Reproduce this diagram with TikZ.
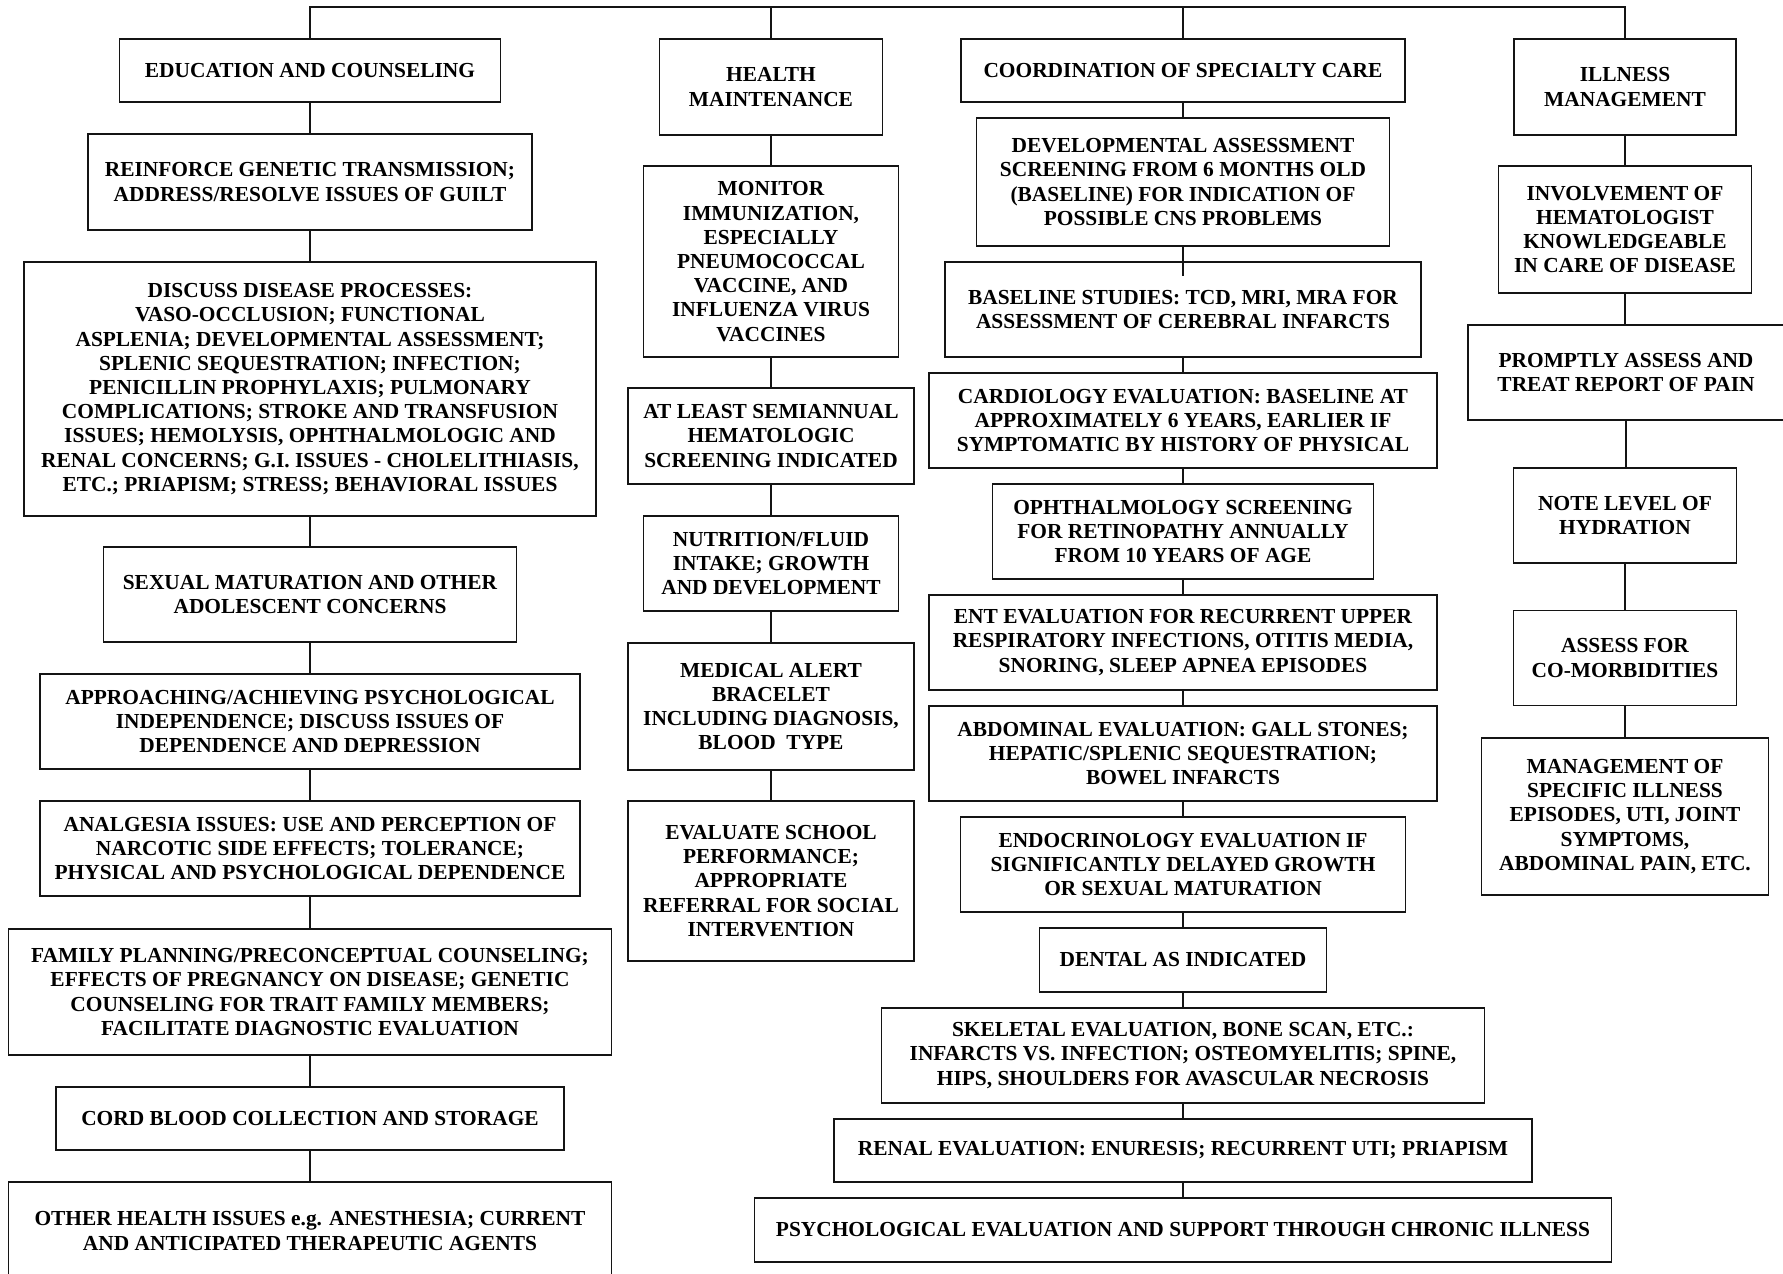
\documentclass[tikz,border=0pt]{standalone}
\usepackage{fontspec}
\setmainfont{Liberation Serif}
\usepackage{tikz}
\usetikzlibrary{positioning}
\definecolor{boxline}{RGB}{20,20,20}

\tikzset{
  box/.style={draw=boxline, line width=1.3pt, fill=white, align=center, inner sep=0pt,
    font=\bfseries\fontsize{21.4}{24.2}\selectfont},
  link/.style={draw=boxline, line width=1.2pt}
}

\begin{document}
\begin{tikzpicture}[x=1pt, y=-1pt]
  \useasboundingbox (0,0) rectangle (1783,1274);
  \coordinate (top) at (0,7);

  \node[box, minimum width=381, minimum height=63] (edu) at (310,70.5) {EDUCATION AND COUNSELING};
  \node[box, minimum width=444, minimum height=96] (reinf) at (310,182) {REINFORCE GENETIC TRANSMISSION;\\ADDRESS/RESOLVE ISSUES OF GUILT};
  \node[box, minimum width=572, minimum height=254] (disc) at (310,389) {DISCUSS DISEASE PROCESSES:\\VASO-OCCLUSION; FUNCTIONAL\\ASPLENIA; DEVELOPMENTAL ASSESSMENT;\\SPLENIC SEQUESTRATION; INFECTION;\\PENICILLIN PROPHYLAXIS; PULMONARY\\COMPLICATIONS; STROKE AND TRANSFUSION\\ISSUES; HEMOLYSIS, OPHTHALMOLOGIC AND\\RENAL CONCERNS; G.I. ISSUES - CHOLELITHIASIS,\\ETC.; PRIAPISM; STRESS; BEHAVIORAL ISSUES};
  \node[box, minimum width=413, minimum height=95] (sexmat) at (310,594.5) {SEXUAL MATURATION AND OTHER\\ADOLESCENT CONCERNS};
  \node[box, minimum width=540, minimum height=95] (indep) at (310,721.5) {APPROACHING/ACHIEVING PSYCHOLOGICAL\\INDEPENDENCE; DISCUSS ISSUES OF\\DEPENDENCE AND DEPRESSION};
  \node[box, minimum width=540, minimum height=95] (analg) at (310,848.5) {ANALGESIA ISSUES: USE AND PERCEPTION OF\\NARCOTIC SIDE EFFECTS; TOLERANCE;\\PHYSICAL AND PSYCHOLOGICAL DEPENDENCE};
  \node[box, minimum width=603, minimum height=126] (family) at (310,992) {FAMILY PLANNING/PRECONCEPTUAL COUNSELING;\\EFFECTS OF PREGNANCY ON DISEASE; GENETIC\\COUNSELING FOR TRAIT FAMILY MEMBERS;\\FACILITATE DIAGNOSTIC EVALUATION};
  \node[box, minimum width=508, minimum height=63] (cord) at (310,1118.5) {CORD BLOOD COLLECTION AND STORAGE};
  \node[box, minimum width=603, minimum height=98] (other) at (310,1231) {OTHER HEALTH ISSUES e.g. ANESTHESIA; CURRENT\\AND ANTICIPATED THERAPEUTIC AGENTS};

  \node[box, minimum width=223, minimum height=96] (health) at (771,87) {HEALTH\\MAINTENANCE};
  \node[box, minimum width=255, minimum height=191] (immun) at (771,261.5) {MONITOR\\IMMUNIZATION,\\ESPECIALLY\\PNEUMOCOCCAL\\VACCINE, AND\\INFLUENZA VIRUS\\VACCINES};
  \node[box, minimum width=286, minimum height=96] (semi) at (771,436) {AT LEAST SEMIANNUAL\\HEMATOLOGIC\\SCREENING INDICATED};
  \node[box, minimum width=255, minimum height=95] (nutr) at (771,563.5) {NUTRITION/FLUID\\INTAKE; GROWTH\\AND DEVELOPMENT};
  \node[box, minimum width=286, minimum height=127] (alert) at (771,706.5) {MEDICAL ALERT\\BRACELET\\INCLUDING DIAGNOSIS,\\BLOOD\ \ TYPE};
  \node[box, minimum width=286, minimum height=160] (school) at (771,881) {EVALUATE SCHOOL\\PERFORMANCE;\\APPROPRIATE\\REFERRAL FOR SOCIAL\\INTERVENTION};

  \node[box, minimum width=444, minimum height=63] (coord) at (1183,70.5) {COORDINATION OF SPECIALTY CARE};
  \node[box, minimum width=413, minimum height=128] (devel) at (1183,182) {DEVELOPMENTAL ASSESSMENT\\SCREENING FROM 6 MONTHS OLD\\(BASELINE) FOR INDICATION OF\\POSSIBLE CNS PROBLEMS};
  \node[box, minimum width=476, minimum height=95] (baseline) at (1183,309.5) {BASELINE STUDIES: TCD, MRI, MRA FOR\\ASSESSMENT OF CEREBRAL INFARCTS};
  \node[box, minimum width=508, minimum height=95] (cardio) at (1183,420.5) {CARDIOLOGY EVALUATION: BASELINE AT\\APPROXIMATELY 6 YEARS, EARLIER IF\\SYMPTOMATIC BY HISTORY OF PHYSICAL};
  \node[box, minimum width=381, minimum height=95] (ophth) at (1183,531.5) {OPHTHALMOLOGY SCREENING\\FOR RETINOPATHY ANNUALLY\\FROM 10 YEARS OF AGE};
  \node[box, minimum width=508, minimum height=95] (ent) at (1183,642.5) {ENT EVALUATION FOR RECURRENT UPPER\\RESPIRATORY INFECTIONS, OTITIS MEDIA,\\SNORING, SLEEP APNEA EPISODES};
  \node[box, minimum width=508, minimum height=95] (abdom) at (1183,753.5) {ABDOMINAL EVALUATION: GALL STONES;\\HEPATIC/SPLENIC SEQUESTRATION;\\BOWEL INFARCTS};
  \node[box, minimum width=445, minimum height=95] (endo) at (1183,864.5) {ENDOCRINOLOGY EVALUATION IF\\SIGNIFICANTLY DELAYED GROWTH\\OR SEXUAL MATURATION};
  \node[box, minimum width=287, minimum height=64] (dental) at (1183,960) {DENTAL AS INDICATED};
  \node[box, minimum width=603, minimum height=95] (skel) at (1183,1055.5) {SKELETAL EVALUATION, BONE SCAN, ETC.:\\INFARCTS VS. INFECTION; OSTEOMYELITIS; SPINE,\\HIPS, SHOULDERS FOR AVASCULAR NECROSIS};
  \node[box, minimum width=698, minimum height=63] (renal) at (1183,1150.5) {RENAL EVALUATION: ENURESIS; RECURRENT UTI; PRIAPISM};
  \node[box, minimum width=857, minimum height=64] (psych) at (1183,1230) {PSYCHOLOGICAL EVALUATION AND SUPPORT THROUGH CHRONIC ILLNESS};

  \node[box, minimum width=222, minimum height=96] (illness) at (1625,87) {ILLNESS\\MANAGEMENT};
  \node[box, minimum width=253, minimum height=127] (hemat) at (1625,229.5) {INVOLVEMENT OF\\HEMATOLOGIST\\KNOWLEDGEABLE\\IN CARE OF DISEASE};
  \node[box, minimum width=316, minimum height=95] (pain) at (1626,372.5) {PROMPTLY ASSESS AND\\TREAT REPORT OF PAIN};
  \node[box, minimum width=223, minimum height=95] (hydr) at (1625,515.5) {NOTE LEVEL OF\\HYDRATION};
  \node[box, minimum width=223, minimum height=95] (comorb) at (1625,658) {ASSESS FOR\\CO-MORBIDITIES};
  \node[box, minimum width=287, minimum height=157] (episodes) at (1625,816.5) {MANAGEMENT OF\\SPECIFIC ILLNESS\\EPISODES, UTI, JOINT\\SYMPTOMS,\\ABDOMINAL PAIN, ETC.};

  \draw[link] (edu.north) |- (illness.north |- top) -- (illness.north);
  \draw[link] (health.north) -- (health.north |- top);
  \draw[link] (coord.north) -- (coord.north |- top);

  \foreach \a/\b in {edu/reinf, reinf/disc, disc/sexmat, sexmat/indep, indep/analg,
      analg/family, family/cord, cord/other,
      health/immun, immun/semi, semi/nutr, nutr/alert, alert/school,
      coord/devel, baseline/cardio, cardio/ophth, ophth/ent, ent/abdom,
      abdom/endo, endo/dental, dental/skel, skel/renal, renal/psych,
      illness/hemat, hemat/pain, pain/hydr, hydr/comorb, comorb/episodes}
    \draw[link] (\a.south) -- (\a.south |- \b.north);
  \draw[link] (devel.south) -- ([yshift=-15pt]devel.south |- baseline.north);
\end{tikzpicture}
\end{document}
